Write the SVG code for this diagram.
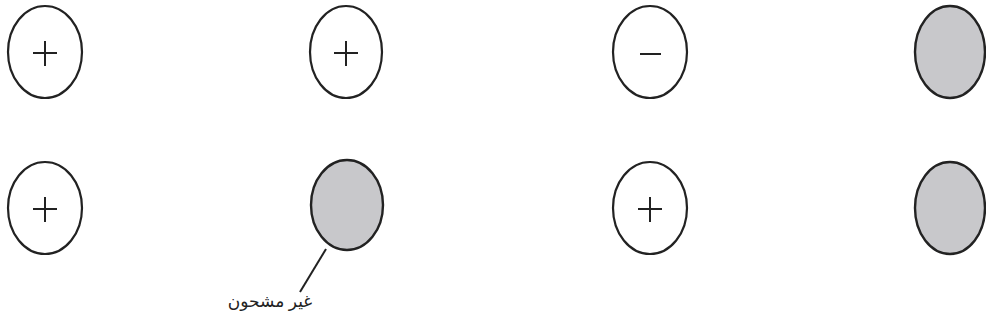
<svg xmlns="http://www.w3.org/2000/svg" width="986" height="329" viewBox="0 0 986 329">
<style>
.n{fill:#fff;stroke:#222;stroke-width:2.2}
.g{fill:#c8c8cb;stroke:#222;stroke-width:2.4}
.s{stroke:#222;stroke-width:2;fill:none}
.t{font-family:"Noto Sans","DejaVu Sans",sans-serif;font-size:17px;fill:#222}
</style>
<rect width="986" height="329" fill="#fff"/>
<g id="n1"><ellipse class="n" cx="45" cy="52" rx="37" ry="46"/><path class="s" d="M33 53H57M45 41V66"/></g>
<g id="n2"><ellipse class="n" cx="346" cy="52" rx="36" ry="46"/><path class="s" d="M334 53H358M346 41V66"/></g>
<g id="n3"><ellipse class="n" cx="650" cy="52" rx="37" ry="46"/><path class="s" d="M640 54H661"/></g>
<g id="n4"><ellipse class="g" cx="950" cy="52" rx="35" ry="46"/></g>
<g id="n5"><ellipse class="n" cx="45" cy="208" rx="37" ry="46"/><path class="s" d="M33 209H57M45 197V222"/></g>
<g id="n6"><ellipse class="g" cx="347" cy="205" rx="36" ry="45"/></g>
<g id="n7"><ellipse class="n" cx="650" cy="208" rx="37" ry="46"/><path class="s" d="M638 209H662M650 197V222"/></g>
<g id="n8"><ellipse class="g" cx="950" cy="208" rx="35" ry="46"/></g>
<g id="connectors"><line class="s" x1="326" y1="249" x2="300" y2="292" stroke-width="1.6"/></g>
<text class="t" x="270" y="307" text-anchor="middle">غير مشحون</text>
</svg>
